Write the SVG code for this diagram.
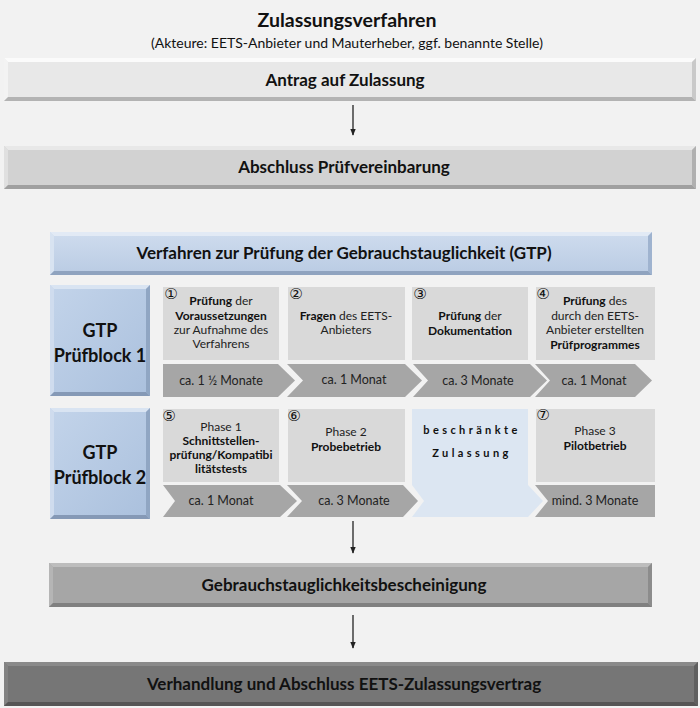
<svg xmlns="http://www.w3.org/2000/svg" width="700" height="708" viewBox="0 0 700 708">
<defs>
<style>
text{font-family:Lato,"Open Sans","Liberation Sans",sans-serif;fill:#111;text-anchor:middle}
.t{font-size:19.5px;font-weight:bold}
.st{font-size:14px}
.h{font-size:17px;font-weight:bold}
.hb{font-size:17px;font-weight:bold}
.g{font-size:18px;font-weight:bold}
.s{font-size:12px;fill:#222}
.b{font-weight:bold;fill:#111}
.c{font-size:12.5px;fill:#222}
.n{font-family:"DejaVu Sans",sans-serif;font-size:15px;fill:#111}
.bz{font-size:11px;font-weight:bold;letter-spacing:3.4px}
.step{fill:#d9d9d9}
.chev{fill:#a6a6a6}
.conn{stroke:#222;stroke-width:1.3;fill:none}
</style>
<linearGradient id="gBlue" x1="0" y1="0" x2="0" y2="1">
<stop offset="0" stop-color="#cfdcee"/><stop offset="1" stop-color="#b9cbe3"/>
</linearGradient>
<linearGradient id="gBlock" x1="0" y1="0" x2="1" y2="1">
<stop offset="0" stop-color="#c3d4ea"/><stop offset="1" stop-color="#aac0dd"/>
</linearGradient>
<marker id="ah" viewBox="0 0 10 10" refX="9" refY="5" markerWidth="7" markerHeight="7" orient="auto" markerUnits="userSpaceOnUse">
<path d="M0,1 L10,5 L0,9 z" fill="#222"/>
</marker>
</defs>
<rect x="0" y="0" width="700" height="708" fill="#f2f2f2"/>

<g id="title">
<text class="t" x="347" y="27">Zulassungsverfahren</text>
<text class="st" x="347" y="48">(Akteure: EETS-Anbieter und Mauterheber, ggf. benannte Stelle)</text>
</g>

<g id="antrag">
<rect x="4" y="58" width="692" height="43" fill="#e8e8e8"/>
<polygon points="4,58 696,58 692,62 8,62" fill="#fbfbfb"/>
<polygon points="4,58 8,62 8,97 4,101" fill="#f3f3f3"/>
<polygon points="696,58 692,62 692,97 696,101" fill="#c9c9c9"/>
<polygon points="4,101 8,97 692,97 696,101" fill="#b3b3b3"/>
<text class="h" x="345" y="86">Antrag auf Zulassung</text>
</g>

<g id="abschluss">
<rect x="4" y="146" width="692" height="43" fill="#d2d2d2"/>
<polygon points="4,146 696,146 692,150 8,150" fill="#e8e8e8"/>
<polygon points="4,146 8,150 8,185 4,189" fill="#e0e0e0"/>
<polygon points="696,146 692,150 692,185 696,189" fill="#b0b0b0"/>
<polygon points="4,189 8,185 692,185 696,189" fill="#a0a0a0"/>
<text class="h" x="344" y="173">Abschluss Prüfvereinbarung</text>
</g>

<g id="gtp-header">
<rect x="50" y="232" width="602" height="43" fill="url(#gBlue)"/>
<polygon points="50,232 652,232 648,236 54,236" fill="#e2eaf5"/>
<polygon points="50,232 54,236 54,271 50,275" fill="#d8e3f1"/>
<polygon points="652,232 648,236 648,271 652,275" fill="#9fb3cf"/>
<polygon points="50,275 54,271 648,271 652,275" fill="#8fa3bf"/>
<text class="hb" x="344" y="259">Verfahren zur Prüfung der Gebrauchstauglichkeit (GTP)</text>
</g>

<g id="block1">
<rect x="50" y="285" width="100" height="111" fill="url(#gBlock)"/>
<polygon points="50,285 150,285 146,289 54,289" fill="#d9e4f2"/>
<polygon points="50,285 54,289 54,392 50,396" fill="#cfdcee"/>
<polygon points="150,285 146,289 146,392 150,396" fill="#90a6c3"/>
<polygon points="50,396 54,392 146,392 150,396" fill="#8599b6"/>
<text class="g" x="100" y="337">GTP</text>
<text class="g" x="100" y="362">Prüfblock 1</text>
</g>

<g id="step1">
<rect class="step" x="163" y="287" width="116" height="73"/>
<text class="n" x="171" y="299">①</text>
<text class="s" x="221" y="305"><tspan class="b">Prüfung</tspan> der</text>
<text class="s b" x="221" y="320">Voraussetzungen</text>
<text class="s" x="221" y="334">zur Aufnahme des</text>
<text class="s" x="221" y="348">Verfahrens</text>
</g>
<g id="step2">
<rect class="step" x="288" y="287" width="117" height="73"/>
<text class="n" x="296" y="299">②</text>
<text class="s" x="346" y="320"><tspan class="b">Fragen</tspan> des EETS-</text>
<text class="s" x="346" y="334">Anbieters</text>
</g>
<g id="step3">
<rect class="step" x="412" y="287" width="116" height="73"/>
<text class="n" x="420" y="299">③</text>
<text class="s" x="470" y="320"><tspan class="b">Prüfung</tspan> der</text>
<text class="s b" x="470" y="335">Dokumentation</text>
</g>
<g id="step4">
<rect class="step" x="536" y="287" width="119" height="73"/>
<text class="n" x="543" y="299">④</text>
<text class="s" x="595" y="305"><tspan class="b">Prüfung</tspan> des</text>
<text class="s" x="595" y="320">durch den EETS-</text>
<text class="s" x="595" y="334">Anbieter erstellten</text>
<text class="s b" x="595" y="349">Prüfprogrammes</text>
</g>

<g id="dur1">
<polygon class="chev" points="163,364 278,364 295,380.5 278,397 163,397"/>
<text class="c" x="221" y="385">ca. 1 ½ Monate</text>
</g>
<g id="dur2">
<polygon class="chev" points="287,364 405,364 422,380.5 405,397 287,397 303,380.5"/>
<text class="c" x="354" y="384">ca. 1 Monat</text>
</g>
<g id="dur3">
<polygon class="chev" points="413,364 530,364 547,380.5 530,397 413,397 428,380.5"/>
<text class="c" x="478" y="385">ca. 3 Monate</text>
</g>
<g id="dur4">
<polygon class="chev" points="535,364 635,364 652,380.5 635,397 535,397 550,380.5"/>
<text class="c" x="594" y="385">ca. 1 Monat</text>
</g>

<g id="block2">
<rect x="50" y="408" width="100" height="111" fill="url(#gBlock)"/>
<polygon points="50,408 150,408 146,412 54,412" fill="#d9e4f2"/>
<polygon points="50,408 54,412 54,515 50,519" fill="#cfdcee"/>
<polygon points="150,408 146,412 146,515 150,519" fill="#90a6c3"/>
<polygon points="50,519 54,515 146,515 150,519" fill="#8599b6"/>
<text class="g" x="100" y="459">GTP</text>
<text class="g" x="100" y="484">Prüfblock 2</text>
</g>

<g id="step5">
<rect class="step" x="163" y="409" width="116" height="73"/>
<text class="n" x="169" y="421">⑤</text>
<text class="s" x="221" y="431">Phase 1</text>
<text class="s b" x="221" y="445">Schnittstellen-</text>
<text class="s b" x="221" y="459">prüfung/Kompatibi</text>
<text class="s b" x="221" y="473">litätstests</text>
</g>
<g id="step6">
<rect class="step" x="288" y="409" width="117" height="73"/>
<text class="n" x="294" y="421">⑥</text>
<text class="s" x="346" y="436">Phase 2</text>
<text class="s b" x="346" y="451">Probebetrieb</text>
</g>
<g id="restricted">
<polygon points="412,409 528,409 528,485 543,501 528,517 412,517 424,501 412,485" fill="#dce6f2"/>
<text class="bz" x="472" y="434">beschränkte</text>
<text class="bz" x="472" y="457">Zulassung</text>
</g>
<g id="step7">
<rect class="step" x="536" y="409" width="119" height="73"/>
<text class="n" x="543" y="420">⑦</text>
<text class="s" x="595" y="435">Phase 3</text>
<text class="s b" x="595" y="450">Pilotbetrieb</text>
</g>

<g id="dur5">
<polygon class="chev" points="163,485 280,485 297,501 280,517 163,517 175,501"/>
<text class="c" x="221" y="505">ca. 1 Monat</text>
</g>
<g id="dur6">
<polygon class="chev" points="287,485 403,485 418,501 403,517 287,517 302,501"/>
<text class="c" x="354" y="505">ca. 3 Monate</text>
</g>
<g id="dur7">
<polygon class="chev" points="535,485 655,485 655,517 535,517 548,501"/>
<text class="c" x="595" y="505">mind. 3 Monate</text>
</g>

<g id="certificate">
<rect x="49" y="563" width="603" height="44" fill="#a6a6a6"/>
<polygon points="49,563 652,563 648,567 53,567" fill="#bdbdbd"/>
<polygon points="49,563 53,567 53,603 49,607" fill="#b5b5b5"/>
<polygon points="652,563 648,567 648,603 652,607" fill="#8c8c8c"/>
<polygon points="49,607 53,603 648,603 652,607" fill="#808080"/>
<text class="h" x="344" y="591">Gebrauchstauglichkeitsbescheinigung</text>
</g>

<g id="contract">
<rect x="4" y="662" width="694" height="44" fill="#767676"/>
<polygon points="4,662 698,662 694,666 8,666" fill="#8a8a8a"/>
<polygon points="4,662 8,666 8,702 4,706" fill="#838383"/>
<polygon points="698,662 694,666 694,702 698,706" fill="#5f5f5f"/>
<polygon points="4,706 8,702 694,702 698,706" fill="#555555"/>
<text class="h" x="344" y="690">Verhandlung und Abschluss EETS-Zulassungsvertrag</text>
</g>

<g id="connectors">
<line class="conn" x1="353" y1="105" x2="353" y2="135" marker-end="url(#ah)"/>
<line class="conn" x1="353" y1="521" x2="353" y2="553" marker-end="url(#ah)"/>
<line class="conn" x1="353" y1="615" x2="353" y2="648" marker-end="url(#ah)"/>
</g>
</svg>
